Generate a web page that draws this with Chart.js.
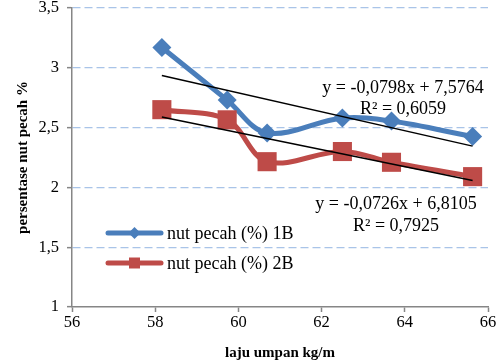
<!DOCTYPE html>
<html><head><meta charset="utf-8">
<script src="https://cdn.jsdelivr.net/npm/chart.js@4"></script>
<style>html,body{margin:0;padding:0;background:#fff}canvas{display:block}</style>
</head><body>
<canvas id="c" width="501" height="363"></canvas>
<script>
const laju = [58.16, 59.73, 60.69, 62.50, 63.68, 65.63];
const nut1B = [3.17, 2.73, 2.455, 2.58, 2.555, 2.425];
const nut2B = [2.65, 2.565, 2.215, 2.30, 2.21, 2.09];
const trendX = [58.16, 65.63];
const trend1B = [2.935, 2.345];
const trend2B = [2.589, 2.058];
const xTicks = [56, 58, 60, 62, 64, 66];
const yTicks = [1, 1.5, 2, 2.5, 3, 3.5];
const seriesNames = ['nut pecah (%) 1B', 'nut pecah (%) 2B'];
const eq1 = ['y = -0,0798x + 7,5764', 'R² = 0,6059'];
const eq2 = ['y = -0,0726x + 6,8105', 'R² = 0,7925'];
const xTitle = 'laju umpan kg/m';
const yTitle = 'persentase nut pecah %';

const BLUE = '#4A7EBB', RED = '#BE4B48', AXIS = '#868686', GRID = '#A9C4E8';
const serif = 'Liberation Serif';

const pts = (xs, ys) => xs.map((x, i) => ({x, y: ys[i]}));

const overlay = {
  id: 'overlay',
  afterDatasetsDraw(chart) {
    const ctx = chart.ctx;
    ctx.save();
    const items = [[BLUE, 'diamond', 233], [RED, 'square', 263]];
    items.forEach(([col, shape, y], i) => {
      ctx.strokeStyle = col; ctx.lineWidth = 5; ctx.lineCap = 'round';
      ctx.beginPath(); ctx.moveTo(108, y); ctx.lineTo(161, y); ctx.stroke();
      ctx.fillStyle = col;
      ctx.beginPath();
      const cx = 134.5;
      if (shape === 'diamond') {
        ctx.moveTo(cx, y - 6); ctx.lineTo(cx + 6, y); ctx.lineTo(cx, y + 6); ctx.lineTo(cx - 6, y);
        ctx.closePath(); ctx.fill();
      } else {
        ctx.rect(cx - 5.5, y - 5.5, 11, 11); ctx.fill();
      }
      ctx.fillStyle = '#000';
      ctx.font = '18px "' + serif + '"';
      ctx.textAlign = 'left'; ctx.textBaseline = 'middle';
      ctx.fillText(seriesNames[i], 167, y + 1);
    });
    ctx.font = '18px "' + serif + '"';
    ctx.textAlign = 'center'; ctx.textBaseline = 'middle';
    ctx.fillStyle = '#000';
    ctx.fillText(eq1[0], 403, 88);
    ctx.fillText(eq1[1], 403, 109);
    ctx.fillText(eq2[0], 396, 204);
    ctx.fillText(eq2[1], 396, 226);
    ctx.restore();
  }
};

new Chart(document.getElementById('c'), {
  type: 'line',
  data: {
    datasets: [
      {label: 'trend 1B', data: pts(trendX, trend1B), borderColor: '#000', borderWidth: 1.5, pointRadius: 0, tension: 0, order: 0},
      {label: 'trend 2B', data: pts(trendX, trend2B), borderColor: '#000', borderWidth: 1.5, pointRadius: 0, tension: 0, order: 0},
      {label: seriesNames[1], data: pts(laju, nut2B), borderColor: RED, backgroundColor: RED, borderWidth: 5,
        pointStyle: 'rect', pointRadius: 13.5, pointBorderWidth: 0, tension: 0.35, order: 1},
      {label: seriesNames[0], data: pts(laju, nut1B), borderColor: BLUE, backgroundColor: BLUE, borderWidth: 5,
        pointStyle: 'rectRot', pointRadius: 9.5, pointBorderWidth: 0, tension: 0.35, order: 2}
    ]
  },
  options: {
    responsive: false,
    animation: false,
    devicePixelRatio: 1,
    layout: {autoPadding: false, padding: {top: 8, right: 13, left: 0, bottom: 0}},
    plugins: {legend: {display: false}, tooltip: {enabled: false}},
    scales: {
      x: {
        type: 'linear', min: 56, max: 66,
        afterBuildTicks: s => { s.ticks = xTicks.map(v => ({value: v})); },
        afterFit: s => { s.height = 56; s.paddingLeft = 0; s.paddingRight = 0; },
        ticks: {font: {family: serif, size: 16.5}, color: '#000', padding: 1},
        grid: {drawOnChartArea: false, drawTicks: true, tickLength: 5, tickColor: AXIS, tickWidth: 1.5},
        border: {color: AXIS, width: 1.5},
        title: {display: true, text: xTitle, font: {family: serif, size: 15, weight: 'bold'}, color: '#000', padding: {top: 0, bottom: 1}}
      },
      y: {
        min: 1, max: 3.5,
        afterBuildTicks: s => { s.ticks = yTicks.map(v => ({value: v})); },
        afterFit: s => { s.width = 72; s.paddingTop = 0; s.paddingBottom = 0; },
        ticks: {font: {family: serif, size: 16.5}, color: '#000', padding: 8,
          callback: v => String(v).replace('.', ',')},
        grid: {color: c => (c.tick && c.tick.value === 1) ? 'rgba(0,0,0,0)' : GRID, lineWidth: 1.3,
          drawTicks: true, tickLength: 5, tickColor: AXIS, tickWidth: 1.5, tickBorderDash: []},
        border: {color: AXIS, width: 1.5, dash: [8, 4]},
        title: {display: true, text: yTitle, font: {family: serif, size: 15, weight: 'bold'}, color: '#000', padding: {top: 14, bottom: 0}}
      }
    }
  },
  plugins: [overlay]
});
</script>
</body></html>
